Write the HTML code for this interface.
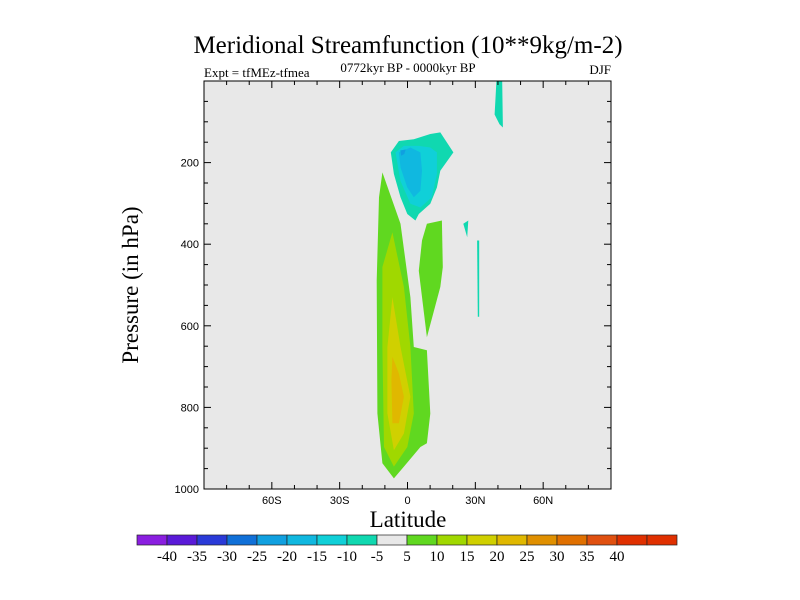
<!DOCTYPE html>
<html><head><meta charset="utf-8"><style>
body{margin:0;background:#fff;}
svg{display:block;}
</style></head><body>
<svg id="chart" width="800" height="600" xmlns="http://www.w3.org/2000/svg">
<rect width="800" height="600" fill="#fff"/>
<text x="408" y="53" text-anchor="middle" font-family="Liberation Serif, serif" font-size="25">Meridional Streamfunction (10**9kg/m-2)</text>
<text x="204" y="77" font-family="Liberation Serif, serif" font-size="13">Expt = tfMEz-tfmea</text>
<text x="408" y="72" text-anchor="middle" font-family="Liberation Serif, serif" font-size="13">0772kyr BP - 0000kyr BP</text>
<text x="611" y="74" text-anchor="end" font-family="Liberation Serif, serif" font-size="13">DJF</text>
<rect x="204" y="81" width="407" height="408" fill="#e8e8e8"/>
<g id="contours"></g>
<rect x="204" y="81" width="407" height="408" fill="none" stroke="#000" stroke-width="1"/>
<g id="axes"></g>
<text x="408" y="527" text-anchor="middle" font-family="Liberation Serif, serif" font-size="23">Latitude</text>
<text transform="translate(138,285) rotate(-90)" text-anchor="middle" font-family="Liberation Serif, serif" font-size="23">Pressure (in hPa)</text>
<g id="colorbar"></g>
</svg>
<script>
const levels = [-45,-40,-35,-30,-25,-20,-15,-10,-5,5,10,15,20,25,30,35,40,45];
const levelColors = ["#8a1ee0","#5a1ad8","#2a3ad8","#1070d8","#10a0e0","#10b8e0","#10d0d8","#10d8b0","#e8e8e8","#60d820","#a0d800","#d0d000","#e0b800","#e09000","#e07000","#e05010","#e03000","#e03000"];
const colorbarLabels = ["-40","-35","-30","-25","-20","-15","-10","-5","5","10","15","20","25","30","35","40"];
const xTickValues = [-60,-30,0,30,60];
const xTickLabels = ["60S","30S","0","30N","60N"];
const yTickValues = [200,400,600,800,1000];
// contour regions: [colour index, [[lat, pressure], ...]]
const region1Level = 9;
const region1 = [[-11.1,224],[-3.1,350],[1.3,530],[2.8,652],[8.6,660],[10.1,815],[8.6,888],[5.7,897],[-1.6,945],[-6,974],[-11.1,937],[-13.3,815],[-13.6,489],[-12.6,285]];
const region2Level = 10;
const region2 = [[-6.7,371],[-1.6,505],[1.3,652],[2.8,815],[-0.1,897],[-6,945],[-10.4,897],[-11.1,652],[-11.1,456]];
const region3Level = 11;
const region3 = [[-6.7,530],[-3.1,652],[1.3,774],[-1.6,864],[-6,905],[-8.9,815],[-8.9,652]];
const region4Level = 12;
const region4 = [[-6.7,676],[-3.8,717],[-1.6,774],[-3.8,839],[-6.7,839],[-7.1,733]];
const region5Level = 9;
const region5 = [[8.6,350],[15.2,342],[15.6,456],[14.5,505],[8.6,628],[5,465],[6.4,391]];
const region6Level = 7;
const region6 = [[-7.4,175],[-3.8,147],[2.8,143],[10.1,130],[14.5,126],[20.3,175],[14.5,220],[13,261],[10.1,301],[5,326],[3.5,342],[-0.1,326],[-3.1,285],[-6,228]];
const region7Level = 6;
const region7 = [[-5.3,175],[-1.6,159],[5,159],[10.1,163],[13,175],[13,228],[10.8,285],[5.7,310],[1.3,301],[-3.1,245]];
const region8Level = 5;
const region8 = [[-3.8,175],[1.3,163],[5.7,175],[6.4,220],[5.7,269],[2.8,285],[-0.1,261],[-3.1,212]];
const region9Level = 4;
const region9 = [[-3.2,170],[-0.8,168],[-1.4,179],[-2.8,183]];
const region10Level = 7;
const region10 = [[39.3,0],[41.9,0],[42.2,114],[40.7,106],[38.5,82],[39,33]];
const region11Level = 7;
const region11 = [[24.7,350],[26.9,342],[26.4,383]];
const region12Level = 7;
const region12 = [[30.8,391],[31.7,391],[31.7,578],[31.1,578]];

const X0=204,X1=611,Y0=81,Y1=489;
const xs = lat => X0 + (lat+90)/180*(X1-X0);
const ys = p => Y0 + p/1000*(Y1-Y0);
const NS="http://www.w3.org/2000/svg";
function mk(tag, attrs, parent){const e=document.createElementNS(NS,tag);for(const k in attrs)e.setAttribute(k,attrs[k]);parent.appendChild(e);return e;}

const regions=[[region1Level,region1],[region5Level,region5],[region2Level,region2],[region3Level,region3],[region4Level,region4],[region6Level,region6],[region7Level,region7],[region8Level,region8],[region9Level,region9],[region10Level,region10],[region11Level,region11],[region12Level,region12]];
const cg=document.getElementById('contours');
regions.forEach((r,i)=>{
  const pts=r[1].map(v=>xs(v[0]).toFixed(1)+","+ys(v[1]).toFixed(1)).join(" ");
  const el=mk('polygon',{points:pts,fill:levelColors[r[0]]},cg);
  
  
});

const ax=document.getElementById('axes');
for(let lat=-90;lat<=90;lat+=10){
  const x=xs(lat), major = (lat%30===0);
  const L = major?7:4;
  mk('line',{x1:x,y1:Y1,x2:x,y2:Y1-L,stroke:"#000"},ax);
  mk('line',{x1:x,y1:Y0,x2:x,y2:Y0+L,stroke:"#000"},ax);
}
xTickValues.forEach((v,i)=>{
  const t=mk('text',{x:xs(v),y:Y1+15,'text-anchor':'middle','font-family':'Liberation Sans, sans-serif','font-size':'11'},ax);
  t.textContent=xTickLabels[i];
  
  
});
for(let p=50;p<1000;p+=50){
  const y=ys(p), major=(p%200===0);
  const L=major?7:4;
  mk('line',{x1:X0,y1:y,x2:X0+L,y2:y,stroke:"#000"},ax);
  mk('line',{x1:X1,y1:y,x2:X1-L,y2:y,stroke:"#000"},ax);
}
yTickValues.forEach(v=>{
  const t=mk('text',{x:X0-5,y:ys(v)+4,'text-anchor':'end','font-family':'Liberation Sans, sans-serif','font-size':'11'},ax);
  t.textContent=String(v);
  
  
});

const cb=document.getElementById('colorbar');
const CB0=137, CBW=30, CBY=535, CBH=10;
for(let i=0;i<levelColors.length;i++){
  const r=mk('rect',{x:CB0+i*CBW,y:CBY,width:CBW,height:CBH,fill:levelColors[i],stroke:"#222",'stroke-width':0.7},cb);
  
  
}
colorbarLabels.forEach((s,i)=>{
  const t=mk('text',{x:CB0+(i+1)*CBW,y:CBY+26,'text-anchor':'middle','font-family':'Liberation Serif, serif','font-size':'15'},cb);
  t.textContent=s;
  
  
});
</script>
</body></html>
